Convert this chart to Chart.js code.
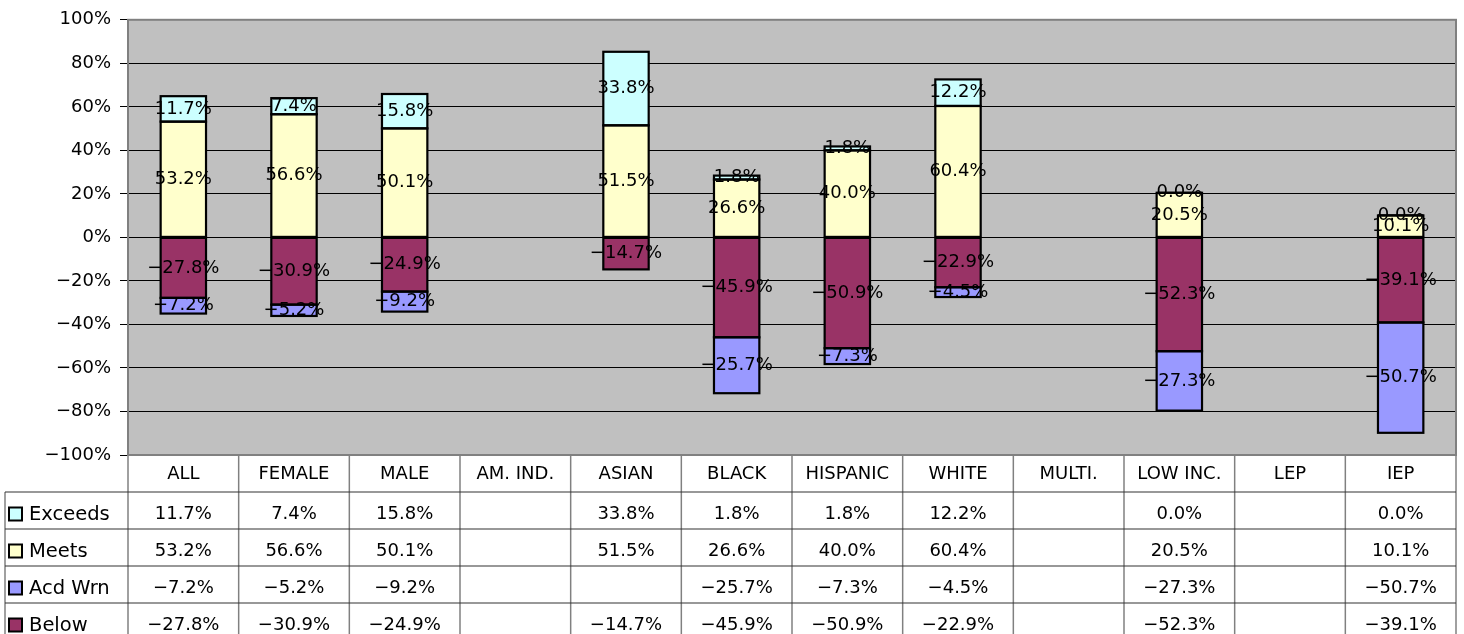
<!DOCTYPE html>
<html>
<head>
<meta charset="utf-8">
<script src="https://cdn.jsdelivr.net/npm/chart.js@4"></script>
<style>
  html, body { margin: 0; padding: 0; background: #fff; }
  #wrap { width: 1464px; height: 634px; }
</style>
</head>
<body>
<div id="wrap"><canvas id="chart" width="1464" height="634"></canvas></div>
<script>
const categories = ['ALL', 'FEMALE', 'MALE', 'AM. IND.', 'ASIAN', 'BLACK', 'HISPANIC', 'WHITE', 'MULTI.', 'LOW INC.', 'LEP', 'IEP']
const exceeds = [11.7, 7.4, 15.8, null, 33.8, 1.8, 1.8, 12.2, null, 0.0, null, 0.0]
const meets   = [53.2, 56.6, 50.1, null, 51.5, 26.6, 40.0, 60.4, null, 20.5, null, 10.1]
const acdWrn  = [-7.2, -5.2, -9.2, null, null, -25.7, -7.3, -4.5, null, -27.3, null, -50.7]
const below   = [-27.8, -30.9, -24.9, null, -14.7, -45.9, -50.9, -22.9, null, -52.3, null, -39.1]
const yTicks = [-100, -80, -60, -40, -20, 0, 20, 40, 60, 80, 100]

const FONT = 'DejaVu Sans'

function fmt(v){
    if(v === null || v === undefined) return ''
    let s = Math.abs(v).toFixed(1) + '%'
    return v < 0 ? '\u2212' + s : s
}

// table rows, top to bottom (legend order)
const tableRows = [
    { label: 'Exceeds', data: exceeds, color: '#CCFFFF' },
    { label: 'Meets',   data: meets,   color: '#FFFFCC' },
    { label: 'Acd Wrn', data: acdWrn,  color: '#9999FF' },
    { label: 'Below',   data: below,   color: '#993366' },
]

const plotBg = {
    id: 'plotBg',
    beforeDraw(chart){
        const { ctx, chartArea: a } = chart
        ctx.save()
        ctx.fillStyle = '#C0C0C0'
        ctx.fillRect(a.left, a.top, a.right - a.left, a.bottom - a.top)
        ctx.restore()
    },
    beforeDatasetsDraw(chart){
        const { ctx, chartArea: a } = chart
        ctx.save()
        ctx.strokeStyle = '#808080'
        ctx.lineWidth = 2
        ctx.strokeRect(a.left, a.top, a.right - a.left, a.bottom - a.top)
        ctx.restore()
    }
}

// outlines + value labels on the bar segments
const barLabels = {
    id: 'barLabels',
    afterDatasetsDraw(chart){
        const ctx = chart.ctx
        ctx.save()
        ctx.strokeStyle = '#000'
        ctx.lineWidth = 2.2
        chart.data.datasets.forEach((ds, i) => {
            chart.getDatasetMeta(i).data.forEach((el, j) => {
                if(ds.data[j] === null) return
                const top = Math.min(el.y, el.base)
                const h = Math.abs(el.base - el.y)
                ctx.strokeRect(el.x - el.width / 2, top, el.width, h)
            })
        })
        ctx.font = '18px "' + FONT + '"'
        ctx.fillStyle = '#000'
        ctx.textAlign = 'center'
        ctx.textBaseline = 'middle'
        chart.data.datasets.forEach((ds, i) => {
            const meta = chart.getDatasetMeta(i)
            meta.data.forEach((el, j) => {
                const v = ds.data[j]
                if(v === null) return
                ctx.fillText(fmt(v), el.x, (el.y + el.base) / 2)
            })
        })
        ctx.restore()
    }
}

const dataTable = {
    id: 'dataTable',
    afterDraw(chart){
        const { ctx, chartArea: a } = chart
        const n = categories.length
        const colW = (a.right - a.left) / n
        const headTop = a.bottom
        const rowH = 37
        const bodyTop = headTop + rowH
        const legendLeft = 5
        ctx.save()

        // vertical lines
        ctx.strokeStyle = '#808080'
        ctx.lineWidth = 1.5
        for(let i = 0; i <= n; i++){
            let x = a.left + i * colW
            ctx.beginPath()
            ctx.moveTo(x, headTop)
            ctx.lineTo(x, chart.height)
            ctx.stroke()
        }
        ctx.beginPath()
        ctx.moveTo(legendLeft, bodyTop)
        ctx.lineTo(legendLeft, chart.height)
        ctx.stroke()

        // horizontal lines
        ctx.strokeStyle = '#333'
        ctx.lineWidth = 1.2
        for(let r = 0; r < tableRows.length; r++){
            let y = bodyTop + r * rowH
            ctx.beginPath()
            ctx.moveTo(legendLeft, y)
            ctx.lineTo(a.right, y)
            ctx.stroke()
        }

        ctx.fillStyle = '#000'
        ctx.textBaseline = 'middle'
        ctx.font = '18px "' + FONT + '"'

        // header
        ctx.textAlign = 'center'
        categories.forEach((c, i) => {
            ctx.fillText(c, a.left + (i + 0.5) * colW, headTop + rowH / 2 + 1)
        })

        // rows
        tableRows.forEach((row, r) => {
            const cy = bodyTop + r * rowH + rowH / 2 + 4
            // legend swatch
            ctx.fillStyle = row.color
            ctx.fillRect(9, cy - 7, 13, 13)
            ctx.strokeStyle = '#000'
            ctx.lineWidth = 2
            ctx.strokeRect(9, cy - 7, 13, 13)
            ctx.fillStyle = '#000'
            ctx.textAlign = 'left'
            ctx.font = '19.5px "' + FONT + '"'
            ctx.fillText(row.label, 29, cy)
            ctx.font = '18px "' + FONT + '"'
            ctx.textAlign = 'center'
            row.data.forEach((v, i) => {
                ctx.fillText(fmt(v), a.left + (i + 0.5) * colW, cy)
            })
        })
        ctx.restore()
    }
}

function mkSet(label, data, color){
    return {
        label: label,
        data: data,
        backgroundColor: color,
        borderWidth: 0,
        stack: 's',
        barPercentage: 0.41,
        categoryPercentage: 1.0,
    }
}

const chartConfig = {
    type: 'bar',
    data: {
        labels: categories,
        datasets: [
            mkSet('Meets', meets, '#FFFFCC'),
            mkSet('Exceeds', exceeds, '#CCFFFF'),
            mkSet('Below', below, '#993366'),
            mkSet('Acd Wrn', acdWrn, '#9999FF'),
        ]
    },
    options: {
        responsive: false,
        animation: false,
        layout: { padding: { left: 0, top: 18, right: 8, bottom: 179 } },
        plugins: {
            legend: { display: false },
            tooltip: { enabled: false },
        },
        scales: {
            x: {
                display: false,
                stacked: true,
            },
            y: {
                stacked: true,
                min: -100,
                max: 100,
                afterFit(scale){ scale.width = 128 },
                afterBuildTicks(scale){ scale.ticks = yTicks.map(v => ({ value: v })) },
                ticks: {
                    color: '#000',
                    padding: 9,
                    font: { family: FONT, size: 18 },
                    callback: function(value){ return fmt(value).replace('.0', '') },
                },
                grid: {
                    color: '#000',
                    lineWidth: 1,
                    tickLength: 8,
                    tickColor: '#000',
                },
                border: { display: false },
            }
        }
    },
    plugins: [plotBg, barLabels, dataTable],
}

new Chart(document.getElementById('chart').getContext('2d'), chartConfig)
</script>
</body>
</html>
